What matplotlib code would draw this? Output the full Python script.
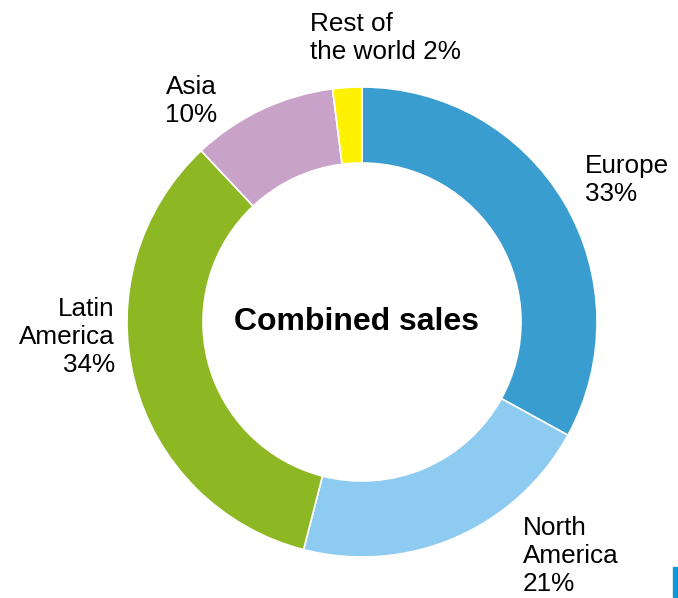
import matplotlib
matplotlib.use("Agg")
from matplotlib import pyplot as plt
from matplotlib.patches import Rectangle

plt.rcParams["font.family"] = ["Liberation Sans", "DejaVu Sans"]

regions = ["Europe", "North\nAmerica", "Latin\nAmerica", "Asia", "Rest of\nthe world"]
shares = [33, 21, 34, 10, 2]
colors = ["#3a9dcf", "#8ecbf0", "#8db824", "#c8a2c8", "#fff200"]
center_title = "Combined sales"

W, H = 678, 598
fig = plt.figure(figsize=(W / 100, H / 100), dpi=100)
ax = fig.add_axes([0, 0, 1, 1])
ax.set_xlim(0, W)
ax.set_ylim(0, H)
ax.set_aspect("equal")
ax.axis("off")

cx, cy, r = 362, H - 322, 235
ax.pie(shares, colors=colors, startangle=90, counterclock=False,
       center=(cx, cy), radius=r,
       wedgeprops=dict(width=76, edgecolor="white", linewidth=1.2))
ax.set_xlim(0, W)
ax.set_ylim(0, H)

ax.text(cx - 5, cy, center_title, ha="center", va="center",
        fontsize=23, fontweight="bold")

# label anchors: (x, y from top, ha)
label_pos = [
    (585, 180, "left"),
    (523, 556, "left"),
    (115, 337, "right"),
    (191, 101, "center"),
    (310, 38, "left"),
]
for name, val, (x, y, ha) in zip(regions, shares, label_pos):
    ax.text(x, H - y, f"{name} {val}%" if name.startswith("Rest") else f"{name}\n{val}%",
            ha=ha, va="center", multialignment=ha, fontsize=18.8,
            linespacing=1.22)

# small accent bar at the lower right corner
ax.add_patch(Rectangle((673, H - 597), 6, 30, color="#0a9ad8", clip_on=False))

fig.savefig("out.png", dpi=100)
